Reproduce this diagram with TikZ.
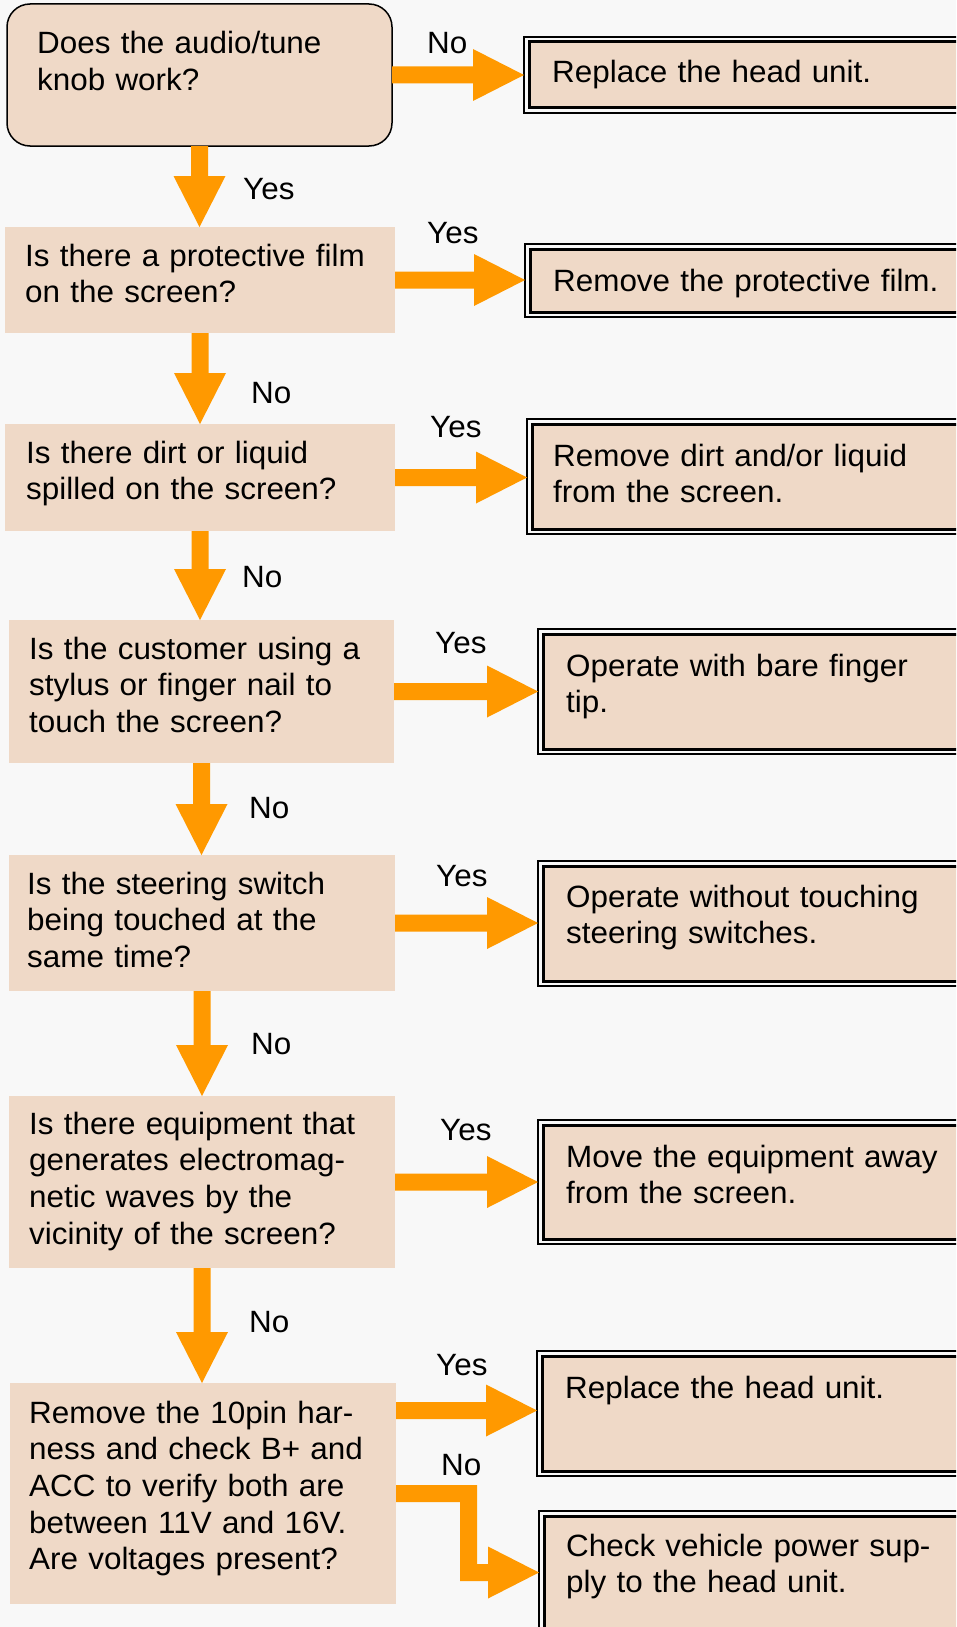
\documentclass[tikz,border=0pt]{standalone}
\usepackage{fontspec}
\setmainfont{Liberation Sans}[FakeStretch=1.02]
\usetikzlibrary{calc}
\definecolor{bgc}{HTML}{F8F8F8}
\definecolor{boxc}{HTML}{EFD9C7}
\definecolor{arrc}{HTML}{FF9900}
\newcommand{\myfs}{\fontsize{30.8pt}{36.7pt}\selectfont}
\newcommand{\harr}[2]{\fill[arw] let \p1=(#1), \p2=(#2) in (\x1,\y1+8.5pt) -- (\x2-51pt,\y1+8.5pt) -- (\x2-51pt,\y1+26pt) -- (\x2,\y1) -- (\x2-51pt,\y1-26pt) -- (\x2-51pt,\y1-8.5pt) -- (\x1,\y1-8.5pt) -- cycle;}
\newcommand{\varr}[2]{\fill[arw] let \p1=(#1), \p2=(#2) in (\x1-8.5pt,\y1) -- (\x1-8.5pt,\y2+51pt) -- (\x1-26pt,\y2+51pt) -- (\x1,\y2) -- (\x1+26pt,\y2+51pt) -- (\x1+8.5pt,\y2+51pt) -- (\x1+8.5pt,\y1) -- cycle;}
\newcommand{\rinner}[1]{\draw[line width=3pt, fill=boxc] ($(#1.north west)+(5,5)$) rectangle ($(#1.south east)+(-5,-5)$);}
\begin{document}
\begin{tikzpicture}[x=1pt,y=-1pt,
  qbox/.style={fill=boxc, draw=none, anchor=north west, inner sep=0pt, outer sep=0pt},
  rbox/.style={fill=bgc, draw=black, line width=2pt, anchor=north west, inner sep=0pt, outer sep=0pt, minimum width=460pt},
  txt/.style={anchor=base west, inner sep=0pt, text width=420pt, align=left, font=\myfs},
  lbl/.style={anchor=base west, inner sep=0pt, font=\myfs},
  arw/.style={fill=arrc}
]
\useasboundingbox (0,0) rectangle (956,1627);
\fill[bgc] (0,0) rectangle (956,1627);
\clip (0,0) rectangle (956,1627);

% left question boxes
\node[qbox, draw=black, line width=1.5pt, rounded corners=23pt, minimum width=385pt, minimum height=142pt] (Q1) at (7,4) {};
\node[qbox, minimum width=390pt, minimum height=106pt] (Q2) at (5,227) {};
\node[qbox, minimum width=390pt, minimum height=107pt] (Q3) at (5,424) {};
\node[qbox, minimum width=385pt, minimum height=143pt] (Q4) at (9,620) {};
\node[qbox, minimum width=386pt, minimum height=136pt] (Q5) at (9,855) {};
\node[qbox, minimum width=386pt, minimum height=172pt] (Q6) at (9,1096) {};
\node[qbox, minimum width=386pt, minimum height=221pt] (Q7) at (10,1383) {};

% right answer boxes
\node[rbox, minimum height=76pt] (R1) at (524,37) {};
\node[rbox, minimum height=73pt] (R2) at (525,244) {};
\node[rbox, minimum height=115pt] (R3) at (527,419) {};
\node[rbox, minimum height=125pt] (R4) at (538,629) {};
\node[rbox, minimum height=125pt] (R5) at (538,861) {};
\node[rbox, minimum height=124pt] (R6) at (538,1120) {};
\node[rbox, minimum height=125pt] (R7) at (537,1351) {};
\node[rbox, minimum height=150pt] (R8) at (539,1511) {};
\foreach \r in {R1,R2,R3,R4,R5,R6,R7,R8} {\rinner{\r}}

% texts
\node[txt] (T1) at (37,54) {Does the audio/tune\\knob work?};
\node[txt] (T2) at (25,266) {Is there a protective film\\on the screen?};
\node[txt] (T3) at (26,463) {Is there dirt or liquid\\spilled on the screen?};
\node[txt] (T4) at (29,659) {Is the customer using a\\stylus or finger nail to\\touch the screen?};
\node[txt] (T5) at (27,894) {Is the steering switch\\being touched at the\\same time?};
\node[txt] (T6) at (29,1134) {Is there equipment that\\generates electromag-\\netic waves by the\\vicinity of the screen?};
\node[txt] (T7) at (29,1423) {Remove the 10pin har-\\ness and check B+ and\\ACC to verify both are\\between 11V and 16V.\\Are voltages present?};

\node[txt] (S1) at (552,83) {Replace the head unit.};
\node[txt] (S2) at (553,291) {Remove the protective film.};
\node[txt] (S3) at (553,466) {Remove dirt and/or liquid\\from the screen.};
\node[txt] (S4) at (566,676) {Operate with bare finger\\tip.};
\node[txt] (S5) at (566,907) {Operate without touching\\steering switches.};
\node[txt] (S6) at (566,1167) {Move the equipment away\\from the screen.};
\node[txt] (S7) at (565,1398) {Replace the head unit.};
\node[txt] (S8) at (566,1556) {Check vehicle power sup-\\ply to the head unit.};

% arrows
\harr{Q1.east}{Q1.east -| R1.west}
\harr{Q2.east}{Q2.east -| R2.west}
\harr{Q3.east}{Q3.east -| R3.west}
\harr{Q4.east}{Q4.east -| R4.west}
\harr{Q5.east}{Q5.east -| R5.west}
\harr{Q6.east}{Q6.east -| R6.west}
\coordinate (q7yes) at ($(Q7.east)+(0,-83)$);
\harr{q7yes}{q7yes -| R7.west}
\coordinate (bend) at (468.5,1572.5);
\fill[arw] let \p1=(Q7.east), \p2=(bend), \p3=(bend -| R8.west) in
  (\x1,\y1+8.5pt) -- (\x2+8.5pt,\y1+8.5pt) -- (\x2+8.5pt,\y2+8.5pt) -- (\x3-51pt,\y2+8.5pt)
  -- (\x3-51pt,\y2+26pt) -- (\x3,\y2) -- (\x3-51pt,\y2-26pt) -- (\x3-51pt,\y2-8.5pt)
  -- (\x2-8.5pt,\y2-8.5pt) -- (\x2-8.5pt,\y1-8.5pt) -- (\x1,\y1-8.5pt) -- cycle;
\varr{Q1.south}{Q2.north}
\varr{Q2.south}{Q3.north}
\varr{Q3.south}{Q4.north}
\varr{Q4.south}{Q5.north}
\varr{Q5.south}{Q6.north}
\varr{Q6.south}{Q7.north}

% labels
\node[lbl] (L1) at (427,54) {No};
\node[lbl] (L2) at (243,199) {Yes};
\node[lbl] (L3) at (427,243) {Yes};
\node[lbl] (L4) at (251,403) {No};
\node[lbl] (L5) at (430,437) {Yes};
\node[lbl] (L6) at (242,587) {No};
\node[lbl] (L7) at (435,653) {Yes};
\node[lbl] (L8) at (249,818) {No};
\node[lbl] (L9) at (436,886) {Yes};
\node[lbl] (L10) at (251,1054) {No};
\node[lbl] (L11) at (440,1140) {Yes};
\node[lbl] (L12) at (249,1332) {No};
\node[lbl] (L13) at (436,1375) {Yes};
\node[lbl] (L14) at (441,1475) {No};
\end{tikzpicture}
\end{document}
